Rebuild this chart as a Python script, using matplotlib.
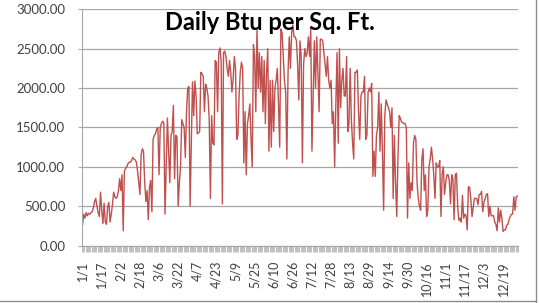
import matplotlib.pyplot as plt
import numpy as np
from matplotlib.lines import Line2D

# daily values, one list per month
jan = [270, 400, 350, 420, 380, 410, 400, 420, 430, 480,
       560, 600, 500, 420, 370, 680, 450, 280, 540, 300,
       270, 500, 550, 300, 400, 520, 680, 620, 600, 620,
       700]
feb = [850, 700, 900, 190, 950, 980, 1000, 1040, 1060,
       1060, 1080, 1120, 1100, 1090, 1060, 950, 800, 650, 1150,
       1230, 1200, 800, 560, 700, 330, 740, 830, 430]
mar = [1350,
       1400, 1420, 1480, 1500, 900, 1500, 1550, 1580, 1560, 400,
       1000, 1620, 1200, 800, 1400, 1450, 1780, 850, 1400, 1380,
       500, 800, 1000, 1600, 1550, 1500, 1120, 1700, 2000, 2020]
apr = [500, 1300, 2080, 1650, 2090, 1900, 1420, 1430, 1450, 2200,
       2180, 2150, 1700, 2050, 2000, 1900, 1600, 600, 1650, 1300,
       1280, 2350, 2330, 1700, 2450, 2510, 2350, 530, 2450, 2470]
may = [2400, 2250, 2150, 2350, 2200, 1950, 2100, 2400, 2250, 1350,
       1400, 1900, 2200, 2330, 2250, 1050, 1700, 900, 1550, 1650,
       1800, 1350, 1000, 2550, 2400, 1700, 2750, 2000, 2450, 1950,
       2400]
jun = [1700, 2350, 1550, 2200, 2500, 1200, 2100, 1250, 2100,
       1450, 2000, 2100, 2250, 1800, 1250, 2750, 2700, 2400, 2100,
       1950, 1100, 2200, 2650, 2250, 2700, 2800, 2650, 2650, 2600,
       2300]
jul = [1850, 2600, 2400, 1050, 2300, 2500, 2400, 2450, 2650,
       2400, 2750, 1200, 1900, 2600, 2000, 2650, 2200, 1700, 2620,
       2620, 2600, 2450, 2300, 2150, 2400, 2100, 2000, 2100, 1550,
       1700, 1000]
aug = [1800, 2450, 1300, 2500, 1750, 2100, 2250, 1900,
       1900, 2400, 1450, 1550, 2250, 1600, 1300, 1100, 2200, 2200,
       2230, 1700, 1350, 1900, 1950, 1950, 2150, 1350, 1400, 1950,
       2000, 1950, 2060]
sep = [880, 1200, 880, 1400, 1500, 1950, 1200,
       1800, 1200, 450, 1650, 1850, 1800, 1750, 1700, 1500, 1750,
       600, 1400, 800, 370, 1100, 1650, 1620, 1570, 1560, 1550,
       1550, 1500, 350]
oct_ = [1050, 600, 800, 700, 1300, 1400, 1350,
        800, 600, 500, 450, 1100, 1230, 700, 900, 370, 450,
        1000, 1100, 1250, 1100, 900, 600, 1050, 1000, 1000, 1080,
        370, 900, 1000, 650]
nov = [800, 900, 900, 820, 530, 900,
       850, 330, 900, 920, 500, 320, 350, 300, 640, 350,
       400, 380, 200, 750, 740, 600, 370, 480, 600, 600,
       600, 520, 650, 650]
dec = [690, 430, 550, 600, 650, 660,
       370, 500, 380, 380, 380, 300, 270, 190, 480, 300,
       450, 350, 180, 200, 200, 260, 270, 330, 370, 400,
       400, 620, 450, 620, 630]

tick_labels = ['1/1', '1/17', '2/2', '2/18', '3/6', '3/22', '4/7', '4/23',
               '5/9', '5/25', '6/10', '6/26', '7/12', '7/28', '8/13', '8/29',
               '9/14', '9/30', '10/16', '11/1', '11/17', '12/3', '12/19']

btu = np.array(jan + feb + mar + apr + may + jun + jul + aug + sep + oct_ + nov + dec)
days = np.arange(len(btu))

plt.rcParams['font.family'] = ['Lato', 'DejaVu Sans']

fig = plt.figure(figsize=(5.39, 3.03), dpi=100)
ax = fig.add_axes([82/539, 1-245.7/303, 436/539, 236.4/303])

ax.plot(days, btu, color='#C0504D', lw=1.0)

ax.set_xlim(-0.5, len(btu)-0.5)
ax.set_ylim(0, 3000)
ax.set_yticks(np.arange(0, 3001, 500))
ax.set_yticklabels(['%.2f' % v for v in np.arange(0, 3001, 500)])
ax.grid(axis='y', color='#A6A6A6', lw=0.9)
ax.set_axisbelow(True)

# every 16th day gets a label, every day gets a small tick
ax.set_xticks(np.arange(0, len(btu), 16))
ax.set_xticklabels(tick_labels, rotation=90)
ax.set_xticks(np.arange(-0.5, len(btu), 1), minor=True)
ax.tick_params(axis='x', which='major', length=0, pad=11, labelsize=9, labelcolor='#404040')
ax.tick_params(axis='x', which='minor', length=4, width=0.5, color='#A6A6A6')
ax.tick_params(axis='y', length=3, color='#A6A6A6', pad=9, labelsize=9.5, labelcolor='#404040')

for s in ['top', 'right']:
    ax.spines[s].set_visible(False)
for s in ['left', 'bottom']:
    ax.spines[s].set_color('#A6A6A6')

fig.text(270/539, 1-30/303, 'Daily Btu per Sq. Ft.', ha='center', va='baseline',
         fontsize=17, fontweight='bold', color='black')

# chart border, right and bottom edges
fig.add_artist(Line2D([536/539, 536/539], [1/303, 1.0], color='#8C8C8C', lw=1))
fig.add_artist(Line2D([0, 536/539], [1/303 + 0.002, 1/303 + 0.002], color='#8C8C8C', lw=1))

plt.savefig('out.png', dpi=100)
